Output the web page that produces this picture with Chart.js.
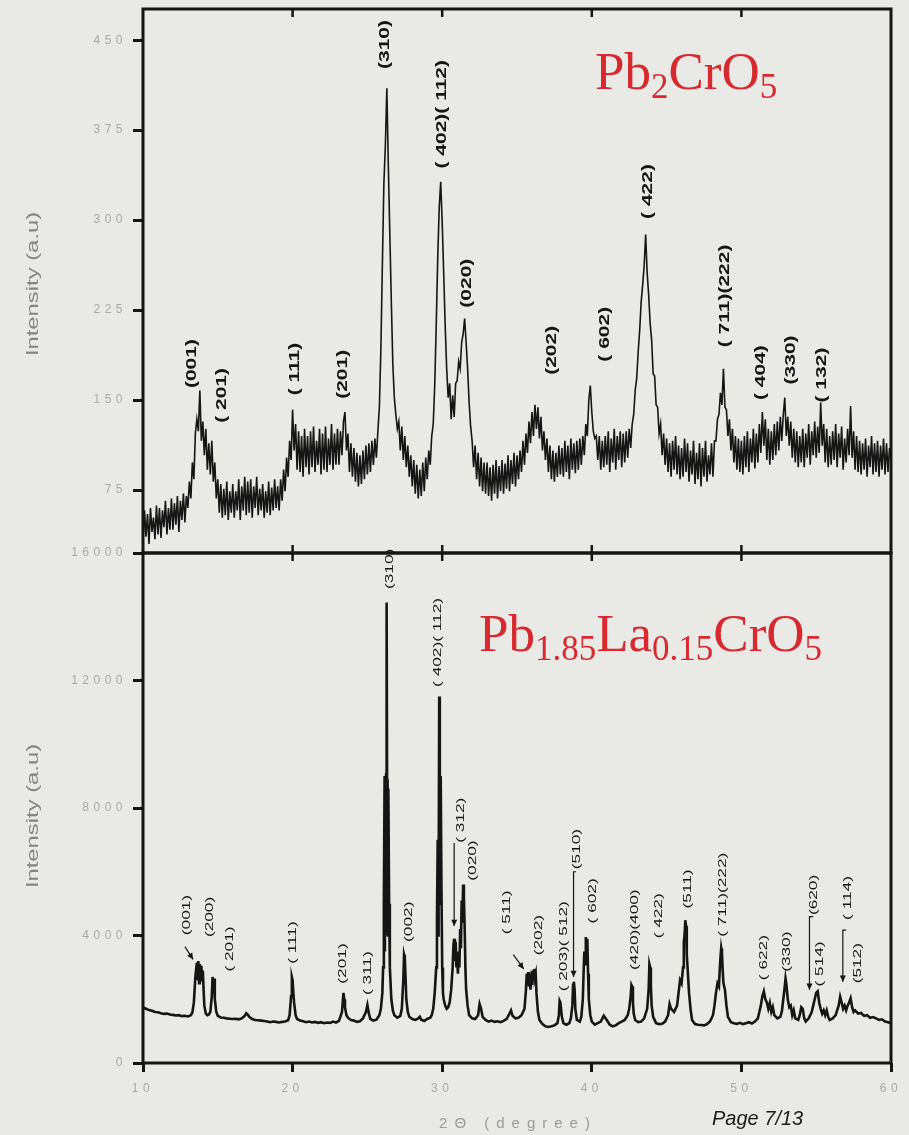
<!DOCTYPE html>
<html>
<head>
<meta charset="utf-8">
<script src="https://cdn.jsdelivr.net/npm/chart.js@4.4.1/dist/chart.umd.min.js"></script>
<style>
  html, body { margin: 0; padding: 0; background: #e9eae6; }
  #wrap { position: relative; width: 909px; height: 1135px; overflow: hidden; }
  canvas { position: absolute; left: 0; top: 0; }
  .ytitle { position: absolute; font: 17px "Liberation Sans", Arial, sans-serif; color: #858585;
            white-space: nowrap; transform: translate(-50%, -50%) rotate(-90deg) scaleX(1.4); }
  .xtitle { position: absolute; font: 15px "Liberation Sans", Arial, sans-serif; color: #9a9a9a;
            letter-spacing: 7px; white-space: nowrap; transform: translate(-50%, -50%); }
  .formula { position: absolute; font: 53px "Liberation Serif", "Times New Roman", serif; color: #d82a2e;
             line-height: 52px; white-space: nowrap; }
  .formula sub { font-size: 0.66em; vertical-align: -0.25em; line-height: 0; }
  .page { position: absolute; font: italic 20px "Liberation Sans", Arial, sans-serif; color: #1a1a1a;
          white-space: nowrap; transform: translateY(-50%); }
</style>
</head>
<body>
<div id="wrap">
  <canvas id="topChart" width="909" height="1135"></canvas>
  <canvas id="bottomChart" width="909" height="1135"></canvas>
  <div class="ytitle" style="left:33px; top:284px">Intensity (a.u)</div>
  <div class="ytitle" style="left:33px; top:816px">Intensity (a.u)</div>
  <div class="xtitle" style="left:518px; top:1122px">2Θ (degree)</div>
  <div class="page" style="left:712px; top:1118px">Page 7/13</div>
  <div class="formula" style="left:595px; top:45px">Pb<sub>2</sub>CrO<sub>5</sub></div>
  <div class="formula" style="left:479px; top:607px">Pb<sub>1.85</sub>La<sub>0.15</sub>CrO<sub>5</sub></div>
</div>
<script>
// the data

// Pb2CrO5 scan, [2θ, intensity]
const scanTop = [
  [10.0,32],[10.1,58],[10.2,36],[10.3,55],[10.4,30],[10.5,60],[10.6,40],[10.7,52],[10.8,34],[10.9,62],
  [11.0,38],[11.1,60],[11.2,35],[11.3,58],[11.4,44],[11.5,66],[11.6,38],[11.7,60],[11.8,42],[11.9,68],
  [12.0,42],[12.1,64],[12.2,46],[12.3,70],[12.4,40],[12.5,66],[12.6,50],[12.7,72],[12.8,48],[12.9,70],
  [13.0,60],[13.1,82],[13.2,68],[13.3,98],[13.4,84],[13.5,122],[13.6,134],[13.7,124],[13.8,158],[13.9,116],
  [14.0,132],[14.1,104],[14.2,126],[14.3,92],[14.4,114],[14.5,88],[14.6,116],[14.7,82],[14.8,98],[14.9,68],
  [15.0,84],[15.1,56],[15.2,80],[15.3,52],[15.4,76],[15.5,54],[15.6,82],[15.7,50],[15.8,74],[15.9,56],
  [16.0,80],[16.1,52],[16.2,74],[16.3,58],[16.4,84],[16.5,50],[16.6,78],[16.7,58],[16.8,86],[16.9,54],
  [17.0,82],[17.1,56],[17.2,84],[17.3,52],[17.4,78],[17.5,60],[17.6,86],[17.7,54],[17.8,76],[17.9,58],
  [18.0,80],[18.1,52],[18.2,74],[18.3,56],[18.4,82],[18.5,54],[18.6,77],[18.7,58],[18.8,84],[18.9,60],
  [19.0,78],[19.1,58],[19.2,84],[19.3,66],[19.4,92],[19.5,74],[19.6,102],[19.7,86],[19.8,116],[19.9,100],
  [20.0,142],[20.1,108],[20.2,130],[20.3,92],[20.4,124],[20.5,90],[20.6,120],[20.7,86],[20.8,126],[20.9,94],
  [21.0,120],[21.1,88],[21.2,124],[21.3,94],[21.4,128],[21.5,90],[21.6,116],[21.7,96],[21.8,126],[21.9,88],
  [22.0,122],[22.1,92],[22.2,128],[22.3,90],[22.4,118],[22.5,96],[22.6,130],[22.7,92],[22.8,122],[22.9,96],
  [23.0,126],[23.1,96],[23.2,124],[23.3,104],[23.4,132],[23.5,140],[23.6,108],[23.7,122],[23.8,90],[23.9,114],
  [24.0,86],[24.1,110],[24.2,82],[24.3,106],[24.4,78],[24.5,104],[24.6,80],[24.7,108],[24.8,84],[24.9,112],
  [25.0,88],[25.1,114],[25.2,90],[25.3,116],[25.4,96],[25.5,118],[25.6,102],[25.7,124],[25.8,144],[25.9,192],
  [26.0,262],[26.1,330],[26.2,362],[26.3,410],[26.4,345],[26.5,288],[26.6,232],[26.7,180],[26.8,152],[26.9,138],
  [27.0,126],[27.1,132],[27.2,108],[27.3,128],[27.4,100],[27.5,120],[27.6,94],[27.7,112],[27.8,86],[27.9,104],
  [28.0,78],[28.1,100],[28.2,72],[28.3,96],[28.4,68],[28.5,92],[28.6,70],[28.7,98],[28.8,74],[28.9,102],
  [29.0,84],[29.1,108],[29.2,96],[29.3,120],[29.4,130],[29.5,162],[29.6,212],[29.7,268],[29.8,310],[29.9,332],
  [30.0,298],[30.1,256],[30.2,212],[30.3,176],[30.4,152],[30.5,164],[30.6,134],[30.7,154],[30.8,136],[30.9,164],
  [31.0,166],[31.1,182],[31.2,176],[31.3,198],[31.4,205],[31.5,218],[31.6,198],[31.7,176],[31.8,148],[31.9,128],
  [32.0,116],[32.1,94],[32.2,112],[32.3,84],[32.4,106],[32.5,78],[32.6,102],[32.7,74],[32.8,98],[32.9,72],
  [33.0,98],[33.1,70],[33.2,94],[33.3,66],[33.4,96],[33.5,72],[33.6,100],[33.7,68],[33.8,95],[33.9,74],
  [34.0,100],[34.1,72],[34.2,97],[34.3,76],[34.4,104],[34.5,74],[34.6,100],[34.7,80],[34.8,106],[34.9,78],
  [35.0,104],[35.1,84],[35.2,108],[35.3,90],[35.4,116],[35.5,96],[35.6,122],[35.7,106],[35.8,132],[35.9,114],
  [36.0,140],[36.1,120],[36.2,146],[36.3,126],[36.4,144],[36.5,118],[36.6,136],[36.7,108],[36.8,124],[36.9,100],
  [37.0,118],[37.1,90],[37.2,112],[37.3,84],[37.4,108],[37.5,82],[37.6,106],[37.7,86],[37.8,112],[37.9,88],
  [38.0,110],[38.1,86],[38.2,116],[38.3,90],[38.4,112],[38.5,84],[38.6,118],[38.7,92],[38.8,114],[38.9,89],
  [39.0,116],[39.1,92],[39.2,118],[39.3,96],[39.4,120],[39.5,104],[39.6,130],[39.7,120],[39.8,150],[39.9,162],
  [40.0,140],[40.1,124],[40.2,118],[40.3,120],[40.4,100],[40.5,120],[40.6,92],[40.7,116],[40.8,94],[40.9,120],
  [41.0,96],[41.1,124],[41.2,90],[41.3,118],[41.4,98],[41.5,126],[41.6,92],[41.7,120],[41.8,100],[41.9,124],
  [42.0,94],[42.1,122],[42.2,98],[42.3,124],[42.4,102],[42.5,126],[42.6,110],[42.7,130],[42.8,138],[42.9,158],
  [43.0,168],[43.1,190],[43.2,208],[43.3,232],[43.4,246],[43.5,262],[43.6,288],[43.7,256],[43.8,238],[43.9,214],
  [44.0,200],[44.1,172],[44.2,170],[44.3,146],[44.4,144],[44.5,122],[44.6,130],[44.7,104],[44.8,122],[44.9,96],
  [45.0,118],[45.1,90],[45.2,114],[45.3,86],[45.4,116],[45.5,92],[45.6,120],[45.7,88],[45.8,112],[45.9,84],
  [46.0,110],[46.1,86],[46.2,118],[46.3,90],[46.4,114],[46.5,82],[46.6,108],[46.7,88],[46.8,116],[46.9,80],
  [47.0,106],[47.1,84],[47.2,114],[47.3,78],[47.4,110],[47.5,86],[47.6,116],[47.7,82],[47.8,104],[47.9,88],
  [48.0,114],[48.1,86],[48.2,116],[48.3,116],[48.4,134],[48.5,138],[48.6,156],[48.7,146],[48.8,176],[48.9,144],
  [49.0,142],[49.1,120],[49.2,134],[49.3,108],[49.4,126],[49.5,98],[49.6,120],[49.7,92],[49.8,118],[49.9,90],
  [50.0,116],[50.1,88],[50.2,120],[50.3,94],[50.4,124],[50.5,90],[50.6,118],[50.7,98],[50.8,126],[50.9,93],
  [51.0,122],[51.1,98],[51.2,130],[51.3,106],[51.4,140],[51.5,112],[51.6,134],[51.7,100],[51.8,126],[51.9,96],
  [52.0,124],[52.1,100],[52.2,130],[52.3,104],[52.4,132],[52.5,108],[52.6,136],[52.7,116],[52.8,138],[52.9,152],
  [53.0,120],[53.1,136],[53.2,112],[53.3,132],[53.4,102],[53.5,126],[53.6,98],[53.7,124],[53.8,94],[53.9,120],
  [54.0,98],[54.1,126],[54.2,94],[54.3,122],[54.4,102],[54.5,130],[54.6,96],[54.7,124],[54.8,104],[54.9,132],
  [55.0,102],[55.1,128],[55.2,106],[55.3,148],[55.4,112],[55.5,130],[55.6,98],[55.7,126],[55.8,94],[55.9,120],
  [56.0,96],[56.1,124],[56.2,100],[56.3,130],[56.4,94],[56.5,122],[56.6,102],[56.7,128],[56.8,92],[56.9,118],
  [57.0,98],[57.1,126],[57.2,104],[57.3,145],[57.4,102],[57.5,124],[57.6,92],[57.7,120],[57.8,90],[57.9,116],
  [58.0,88],[58.1,114],[58.2,92],[58.3,118],[58.4,86],[58.5,112],[58.6,94],[58.7,120],[58.8,88],[58.9,114],
  [59.0,90],[59.1,116],[59.2,86],[59.3,112],[59.4,92],[59.5,118],[59.6,88],[59.7,114],[59.8,90],[59.9,110],
  [60.0,100]
];

// Pb1.85La0.15CrO5 scan, [2θ, intensity]
const scanBottom = [
  [10.0,1740],[10.2,1700],[10.4,1660],[10.6,1640],[10.8,1600],[11.0,1590],[11.2,1560],[11.4,1540],[11.6,1550],[11.8,1520],
  [12.0,1510],[12.2,1490],[12.4,1500],[12.6,1470],[12.8,1480],[13.0,1460],[13.2,1500],[13.3,1580],[13.4,1900],[13.5,2700],
  [13.6,3150],[13.65,2600],[13.7,3200],[13.75,2500],[13.8,3100],[13.85,2700],[13.9,3050],[13.95,2600],[14.0,2900],[14.05,2300],
  [14.1,1800],[14.2,1550],[14.3,1500],[14.4,1520],[14.5,1600],[14.6,2100],[14.65,2700],[14.7,2300],[14.75,2650],[14.8,2000],
  [14.9,1600],[15.0,1480],[15.2,1430],[15.4,1420],[15.6,1400],[15.8,1390],[16.0,1380],[16.2,1390],[16.4,1370],[16.6,1400],
  [16.8,1480],[16.9,1560],[17.0,1520],[17.1,1450],[17.3,1380],[17.5,1350],[17.7,1340],[17.9,1330],[18.1,1320],[18.3,1300],
  [18.5,1280],[18.7,1300],[18.9,1290],[19.1,1270],[19.3,1290],[19.5,1300],[19.7,1340],[19.8,1500],[19.9,2100],[19.95,2700],
  [20.0,2600],[20.05,2200],[20.1,1900],[20.2,1500],[20.3,1380],[20.5,1330],[20.7,1310],[20.9,1280],[21.1,1300],[21.3,1270],
  [21.5,1290],[21.7,1260],[21.9,1280],[22.1,1250],[22.3,1270],[22.5,1260],[22.7,1300],[22.9,1270],[23.1,1320],[23.3,1600],
  [23.4,2200],[23.45,2000],[23.5,1750],[23.6,1500],[23.7,1420],[23.9,1350],[24.1,1330],[24.3,1290],[24.5,1310],[24.7,1400],
  [24.9,1600],[25.0,1820],[25.1,1550],[25.2,1380],[25.4,1330],[25.6,1360],[25.8,1500],[25.9,1700],[26.0,2200],[26.05,3000],
  [26.1,5000],[26.15,9000],[26.17,3500],[26.2,8700],[26.22,4000],[26.25,9100],[26.27,5000],[26.3,14450],[26.33,6000],[26.35,8900],
  [26.38,4000],[26.4,8600],[26.45,5000],[26.5,3000],[26.6,2000],
  [26.7,1650],[26.8,1500],[27.0,1420],[27.2,1480],[27.3,1700],[27.4,2600],[27.45,3400],[27.5,3300],[27.55,2700],[27.6,2000],
  [27.7,1600],[27.8,1450],[28.0,1380],[28.2,1350],[28.4,1400],[28.5,1450],[28.6,1360],[28.8,1320],[29.0,1380],[29.2,1420],
  [29.3,1500],[29.4,1700],[29.5,2200],[29.6,3000],[29.65,4500],[29.7,7000],[29.72,4000],[29.75,6800],[29.77,5000],[29.8,11500],
  [29.83,6000],[29.85,9100],[29.88,5000],[29.9,9000],
  [29.95,5500],[30.0,3000],[30.05,2200],[30.1,2000],[30.2,1800],[30.3,1700],[30.4,1750],[30.5,1900],[30.6,2300],[30.7,3000],
  [30.75,3700],[30.8,3900],[30.85,3200],[30.9,3800],[30.95,3000],[31.0,3300],[31.05,2800],[31.1,3500],[31.15,3000],[31.2,4200],
  [31.25,3600],[31.3,5100],[31.35,4400],[31.4,5600],[31.45,5200],[31.5,4300],[31.55,3000],[31.6,2300],[31.7,1800],[31.8,1500],
  [32.0,1400],[32.2,1380],[32.4,1500],[32.5,1850],[32.6,1700],[32.7,1450],[32.9,1350],[33.1,1300],[33.3,1330],[33.5,1290],
  [33.7,1310],[33.9,1280],[34.1,1320],[34.3,1380],[34.5,1550],[34.6,1650],[34.7,1480],[34.9,1400],[35.1,1420],[35.3,1500],
  [35.5,1700],[35.6,2300],[35.65,2800],[35.7,2500],[35.75,2850],[35.8,2400],[35.85,2700],[35.9,2300],[35.95,2600],[36.0,2450],
  [36.05,2900],[36.1,2600],[36.15,2950],[36.2,2700],[36.25,2800],[36.3,2200],[36.4,1600],[36.5,1350],[36.7,1220],[36.9,1150],
  [37.1,1130],[37.3,1150],[37.5,1180],[37.7,1250],[37.8,1500],[37.85,1950],[37.9,1900],[38.0,1450],[38.1,1250],[38.3,1200],
  [38.5,1250],[38.6,1400],[38.7,1800],[38.75,2450],[38.8,2550],[38.85,2300],[38.9,1700],[39.0,1350],[39.2,1300],[39.3,1450],
  [39.4,2000],[39.45,2800],[39.5,3500],[39.55,3100],[39.6,3950],[39.65,3500],[39.7,3900],[39.75,2800],[39.8,2000],[39.9,1500],
  [40.0,1300],[40.2,1200],[40.4,1250],[40.6,1300],[40.8,1480],[41.0,1350],[41.2,1200],[41.4,1150],[41.6,1180],[41.8,1250],
  [42.0,1300],[42.2,1350],[42.4,1500],[42.5,1700],[42.6,2100],[42.65,2450],[42.7,2400],[42.75,1900],[42.8,1550],[42.9,1350],
  [43.1,1280],[43.3,1300],[43.5,1400],[43.7,1700],[43.8,2300],[43.85,3100],[43.9,3000],[43.95,2400],[44.0,1800],[44.1,1450],
  [44.3,1250],[44.5,1220],[44.7,1230],[44.9,1300],[45.1,1500],[45.2,1850],[45.3,1700],[45.5,1600],[45.7,1800],[45.8,2200],
  [45.9,2600],[46.0,2500],[46.1,3000],[46.15,3800],[46.2,4000],[46.25,4480],[46.3,4300],[46.35,3400],[46.4,3000],[46.5,2200],
  [46.6,1700],[46.7,1350],[46.9,1220],[47.1,1200],[47.3,1190],[47.5,1180],[47.7,1220],[47.9,1300],[48.1,1500],[48.2,1800],
  [48.3,2200],[48.4,2500],[48.5,2400],[48.55,2900],[48.6,3300],[48.65,3600],[48.7,3450],[48.75,2900],[48.8,2500],[48.9,2300],
  [49.0,1800],[49.1,1450],[49.3,1280],[49.5,1250],[49.7,1230],[49.9,1260],[50.1,1220],[50.3,1250],[50.5,1280],[50.7,1240],
  [50.9,1300],[51.1,1400],[51.3,1800],[51.4,2100],[51.5,2250],[51.6,2000],[51.7,1900],[51.8,1700],[51.9,1880],[52.0,1600],
  [52.1,1750],[52.2,1500],[52.4,1400],[52.6,1450],[52.7,1600],[52.8,2000],[52.9,2400],[52.95,2650],[53.0,2500],[53.1,2000],
  [53.2,1750],[53.3,1800],[53.4,1500],[53.5,1650],[53.6,1400],[53.8,1350],[53.9,1500],[54.0,1750],[54.1,1700],[54.2,1400],
  [54.3,1300],[54.5,1400],[54.7,1600],[54.8,1800],[54.9,2000],[55.0,2200],[55.1,2250],[55.2,1900],[55.3,1700],[55.4,1550],
  [55.5,1650],[55.6,1500],[55.7,1650],[55.8,1450],[55.9,1350],[56.1,1400],[56.3,1500],[56.5,1800],[56.6,2080],[56.7,1900],
  [56.8,1700],[56.9,1800],[57.0,1650],[57.1,1800],[57.2,1900],[57.3,2030],[57.4,1750],[57.5,1600],[57.6,1650],[57.8,1550],
  [58.0,1570],[58.2,1480],[58.4,1500],[58.6,1420],[58.8,1440],[59.0,1400],[59.2,1350],[59.4,1370],[59.6,1300],[59.8,1280],
  [60.0,1250]
];

// axis ticks
const thetaTicks = [10, 20, 30, 40, 50, 60];
const innerTicks = [20, 30, 40, 50];
const topTicks = [75, 150, 225, 300, 375, 450];
const bottomTicks = [0, 4000, 8000, 12000, 16000];

// peak labels: [text, 2θ, intensity at the foot of the label]
const topLabels = [
  ['(001)', 13.31, 160], ['( 201)', 15.26, 131], ['( 111)', 20.16, 154], ['(201)', 23.39, 151],
  ['(310)', 26.18, 426], ['( 402)( 112)', 29.97, 343], ['(020)', 31.64, 227], ['(202)', 37.32, 171],
  ['( 602)', 40.9, 182], ['( 422)', 43.78, 301], ['( 711)(222)', 48.9, 194], ['( 404)', 51.35, 150],
  ['(330)', 53.3, 163], ['( 132)', 55.37, 148]
];
const bottomLabels = [
  ['(001)', 12.92, 4010], ['(200)', 14.47, 3950], ['( 201)', 15.8, 2870], ['( 111)', 20.03, 3110],
  ['(201)', 23.39, 2490], ['( 311)', 25.06, 2130], ['(310)', 26.47, 14870], ['(002)', 27.74, 3800],
  ['( 402)( 112)', 29.74, 11800], ['( 312)', 31.24, 6910], ['(020)', 32.08, 5720], ['( 511)', 34.3, 4040],
  ['(202)', 36.45, 3380], ['( 203)( 512)', 38.1, 2250], ['(510)', 38.99, 6080], ['( 602)', 40.1, 4380],
  ['(420)(400)', 42.89, 2920], ['( 422)', 44.45, 3910], ['(511)', 46.41, 4850], ['( 711)(222)', 48.79, 3960],
  ['( 622)', 51.51, 2600], ['(330)', 53.03, 2860], ['(620)', 54.86, 4640], ['( 514)', 55.26, 2400],
  ['( 114)', 57.13, 4490], ['(512)', 57.8, 2500]
];
// pointer lines, last point gets the arrow head
const bottomArrows = [
  [[12.8, 3650], [13.35, 3250]],
  [[30.8, 6900], [30.8, 4300]],
  [[34.75, 3400], [35.45, 2950]],
  [[38.95, 6000], [38.78, 6000], [38.78, 2700]],
  [[54.8, 4590], [54.55, 4590], [54.55, 2300]],
  [[57.0, 4170], [56.78, 4170], [56.78, 2550]]
];


// drawing helpers

const ink = '#151515';
const tickFont = { family: 'Liberation Sans', size: 12 };

function frame(innerTop, innerBottom) {
  return {
    id: 'frame',
    beforeDraw(chart) {
      chart.ctx.letterSpacing = '4.5px';
    },
    afterDatasetsDraw(chart) {
      const { ctx, chartArea: a, scales: { x } } = chart;
      ctx.save();
      ctx.strokeStyle = ink;
      ctx.lineWidth = 3;
      ctx.strokeRect(a.left, a.top, a.right - a.left, a.bottom - a.top);
      ctx.lineWidth = 2.5;
      innerTicks.forEach(v => {
        const px = x.getPixelForValue(v);
        ctx.beginPath();
        if (innerTop) { ctx.moveTo(px, a.top); ctx.lineTo(px, a.top + 8); }
        if (innerBottom) { ctx.moveTo(px, a.bottom); ctx.lineTo(px, a.bottom - 8); }
        ctx.stroke();
      });
      ctx.restore();
    }
  };
}

function peakText(labels, arrows, font, stretch) {
  return {
    id: 'peakText',
    afterDatasetsDraw(chart) {
      const { ctx, scales: { x, y } } = chart;
      ctx.save();
      ctx.letterSpacing = '0px';
      ctx.fillStyle = ink;
      ctx.strokeStyle = ink;
      ctx.font = font;
      labels.forEach(([text, tx, ty]) => {
        ctx.save();
        ctx.translate(x.getPixelForValue(tx), y.getPixelForValue(ty));
        ctx.rotate(-Math.PI / 2);
        ctx.scale(stretch, 1);
        ctx.textAlign = 'left';
        ctx.textBaseline = 'middle';
        ctx.fillText(text, 0, 0);
        ctx.restore();
      });
      ctx.lineWidth = 1.2;
      arrows.forEach(line => {
        const p = line.map(([a, b]) => [x.getPixelForValue(a), y.getPixelForValue(b)]);
        ctx.beginPath();
        p.forEach(([px, py], i) => i ? ctx.lineTo(px, py) : ctx.moveTo(px, py));
        ctx.stroke();
        const [x1, y1] = p[p.length - 2];
        const [x2, y2] = p[p.length - 1];
        const ang = Math.atan2(y2 - y1, x2 - x1);
        ctx.beginPath();
        ctx.moveTo(x2, y2);
        ctx.lineTo(x2 - 7 * Math.cos(ang - 0.45), y2 - 7 * Math.sin(ang - 0.45));
        ctx.lineTo(x2 - 7 * Math.cos(ang + 0.45), y2 - 7 * Math.sin(ang + 0.45));
        ctx.closePath();
        ctx.fill();
      });
      ctx.restore();
    }
  };
}

function yAxis(ticks, min, max) {
  return {
    min: min,
    max: max,
    // fixed axis width, and no extra room asked for the end labels
    afterFit: s => { s.width = 143; s.paddingTop = 0; s.paddingBottom = 0; },
    afterBuildTicks: s => { s.ticks = ticks.map(v => ({ value: v })); },
    ticks: { color: '#a8a8a8', font: tickFont, padding: 6, autoSkip: false, callback: v => String(v) },
    grid: { drawOnChartArea: false, drawTicks: true, tickLength: 10, tickWidth: 3, tickColor: ink },
    border: { display: false }
  };
}

function lineSet(scan, width) {
  return {
    data: scan.map(p => ({ x: p[0], y: p[1] })),
    borderColor: ink,
    borderWidth: width,
    pointRadius: 0,
    tension: 0,
    fill: false
  };
}


// top panel, Pb2CrO5

new Chart(document.getElementById('topChart'), {
  type: 'line',
  data: { datasets: [lineSet(scanTop, 1.6)] },
  options: {
    responsive: false,
    animation: false,
    layout: { padding: { left: 0, top: 9, right: 18, bottom: 582 } },
    plugins: { legend: { display: false }, tooltip: { enabled: false } },
    scales: {
      x: { type: 'linear', display: false, min: 10, max: 60 },
      y: yAxis(topTicks, 22.5, 476)
    }
  },
  plugins: [frame(true, true), peakText(topLabels, [], 'bold 14px "Liberation Sans", Arial, sans-serif', 1.5)]
});


// bottom panel, Pb1.85La0.15CrO5

new Chart(document.getElementById('bottomChart'), {
  type: 'line',
  data: { datasets: [lineSet(scanBottom, 2.6)] },
  options: {
    responsive: false,
    animation: false,
    layout: { padding: { left: 0, top: 553, right: 18, bottom: 42 } },
    plugins: { legend: { display: false }, tooltip: { enabled: false } },
    scales: {
      x: {
        type: 'linear',
        min: 10,
        max: 60,
        afterFit: s => { s.height = 30; s.paddingLeft = 0; s.paddingRight = 0; },
        afterBuildTicks: s => { s.ticks = thetaTicks.map(v => ({ value: v })); },
        ticks: { color: '#a8a8a8', font: tickFont, padding: 9, maxRotation: 0, autoSkip: false, callback: v => String(v) },
        grid: { drawOnChartArea: false, drawTicks: true, tickLength: 9, tickWidth: 3, tickColor: ink },
        border: { display: false }
      },
      y: yAxis(bottomTicks, 0, 16000)
    }
  },
  plugins: [frame(true, false), peakText(bottomLabels, bottomArrows, '11.5px "Liberation Sans", Arial, sans-serif', 1.5)]
});
</script>
</body>
</html>
